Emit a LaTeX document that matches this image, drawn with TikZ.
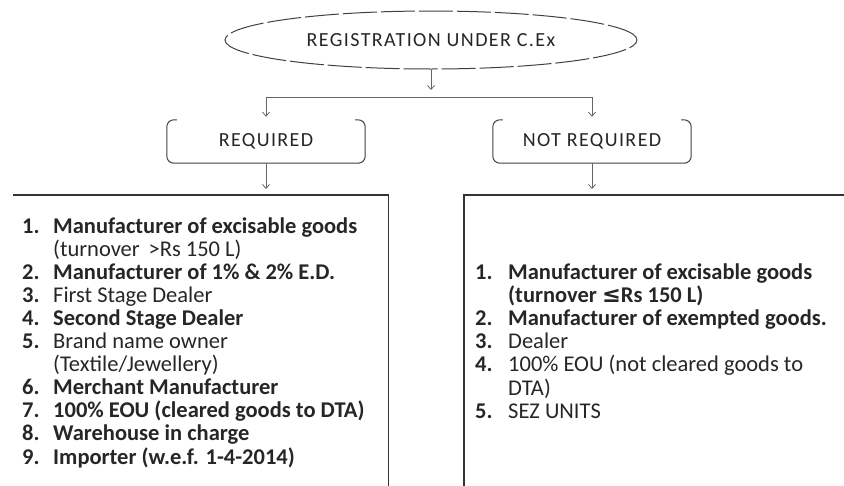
\documentclass[tikz,border=0pt]{standalone}
\usepackage{fontspec}
\setmainfont{Carlito}
\newfontfamily\symfont{DejaVu Sans}
\usetikzlibrary{shapes.geometric,arrows.meta}

\begin{document}
\begin{tikzpicture}[x=1pt,y=-1pt,
  conn/.style={draw=black!60, line width=0.8pt},
  tip/.style={-{Straight Barb[length=4pt,width=7pt]}},
  heading/.style={font=\fontsize{20}{24}\selectfont\addfontfeatures{LetterSpace=7}, text=black!85},
  labelbox/.style={minimum width=198pt, minimum height=43pt, inner sep=0pt, heading},
  frame/.style={draw=black!75, line width=1pt},
  listbox/.style={minimum height=330pt, inner sep=0pt, anchor=north west},
  boxline/.style={draw=black!80, line width=1.6pt},
  num/.style={anchor=base west, inner sep=0pt, font=\fontsize{22.5}{24}\selectfont\bfseries, text=black!85},
  itm/.style={anchor=base west, inner sep=0pt, font=\fontsize{22.5}{24}\selectfont, text=black!85},
  bitm/.style={itm, font=\fontsize{22.5}{24}\selectfont\bfseries}
]
\useasboundingbox (0,0) rectangle (844,485);
\clip (0,0) rectangle (844,485);

% title ellipse
\node[ellipse, draw=black!75, line width=1pt, dash pattern=on 34pt off 4pt,
      minimum width=412pt, minimum height=58pt, heading] (reg) at (431,40)
      {REGISTRATION UNDER C.Ex};

% branch labels
\node[labelbox] (req) at (266,141.5) {REQUIRED};
\node[labelbox] (notreq) at (592,141.5) {NOT REQUIRED};
\foreach \b in {req,notreq}{
  \draw[frame, rounded corners=7pt]
    ([xshift=10pt]\b.north west) -- (\b.north west) -- (\b.south west)
    -- (\b.south east) -- (\b.north east) -- ([xshift=-10pt]\b.north east);
}

% list boxes
\node[listbox, minimum width=375pt] (reqlist) at (13,195) {};
\node[listbox, minimum width=400pt] (notlist) at (464,195) {};
\draw[boxline] (reqlist.north west) -- (reqlist.north east) -- (reqlist.south east);
\draw[boxline] (notlist.south west) -- (notlist.north west) -- (notlist.north east);

% connectors
\coordinate (drop) at (431,90);
\coordinate (busL) at (266,97);
\coordinate (busR) at (592,97);
\draw[conn,tip] (reg.south) -- (drop);
\draw[conn] (busL) -- (busR);
\draw[conn,tip,shorten >=3pt] (busL) -- (req.north);
\draw[conn,tip,shorten >=3pt] (busR) -- (notreq.north);
\draw[conn,tip,shorten >=6pt] (req.south) -- (req.south |- reqlist.north);
\draw[conn,tip,shorten >=6pt] (notreq.south) -- (notreq.south |- notlist.north);

% required list
\node[num] (a1n) at (22,233) {1.};
\node[bitm] (a1) at (53,233) {Manufacturer of excisable goods};
\node[itm] (a1b) at (53,256.1) {(turnover \,>Rs 150 L)};
\node[num] (a2n) at (22,279.2) {2.};
\node[bitm] (a2) at (53,279.2) {Manufacturer of 1\% \& 2\% E.D.};
\node[num] (a3n) at (22,302.3) {3.};
\node[itm] (a3) at (53,302.3) {First Stage Dealer};
\node[num] (a4n) at (22,325.4) {4.};
\node[bitm] (a4) at (53,325.4) {Second Stage Dealer};
\node[num] (a5n) at (22,348.5) {5.};
\node[itm] (a5) at (53,348.5) {Brand name owner};
\node[itm] (a5b) at (53,371.6) {(Textile/Jewellery)};
\node[num] (a6n) at (22,394.7) {6.};
\node[bitm] (a6) at (53,394.7) {Merchant Manufacturer};
\node[num] (a7n) at (22,417.8) {7.};
\node[bitm] (a7) at (53,417.8) {100\% EOU (cleared goods to DTA)};
\node[num] (a8n) at (22,440.9) {8.};
\node[bitm] (a8) at (53,440.9) {Warehouse in charge};
\node[num] (a9n) at (22,464) {9.};
\node[bitm] (a9) at (53,464) {Importer (w.e.f. 1-4-2014)};

% not-required list
\node[num] (b1n) at (475,279) {1.};
\node[bitm] (b1) at (508,279) {Manufacturer of excisable goods};
\node[bitm] (b1b) at (508,302.2) {(turnover {\symfont ≤}Rs 150 L)};
\node[num] (b2n) at (475,325.4) {2.};
\node[bitm] (b2) at (508,325.4) {Manufacturer of exempted goods.};
\node[num] (b3n) at (475,348.6) {3.};
\node[itm] (b3) at (508,348.6) {Dealer};
\node[num] (b4n) at (475,371.8) {4.};
\node[itm] (b4) at (508,371.8) {100\% EOU (not cleared goods to};
\node[itm] (b4b) at (508,395) {DTA)};
\node[num] (b5n) at (475,418.2) {5.};
\node[itm] (b5) at (508,418.2) {SEZ UNITS};
\end{tikzpicture}
\end{document}
